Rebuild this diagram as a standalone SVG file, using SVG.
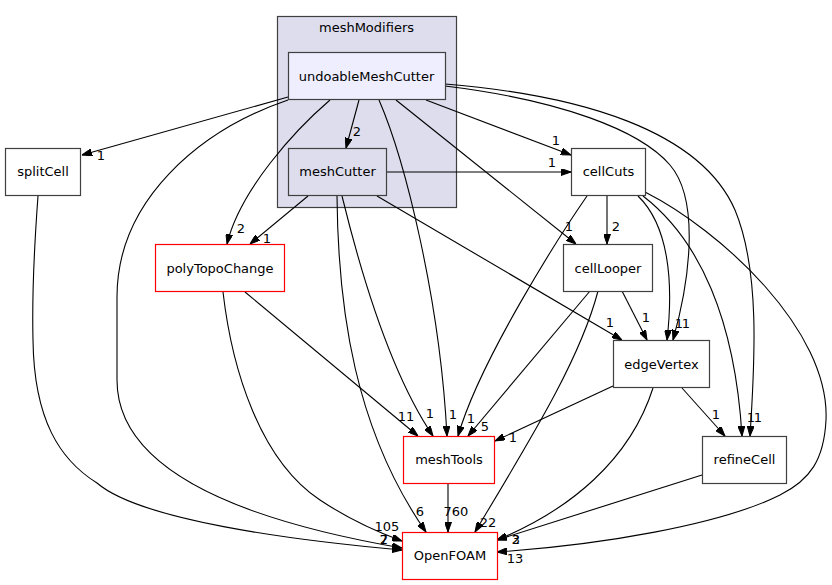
<svg xmlns="http://www.w3.org/2000/svg" width="832" height="585" viewBox="0 0 832 585">
<defs>
<marker id="ah" markerWidth="10" markerHeight="7" refX="10" refY="3.5" orient="auto" markerUnits="userSpaceOnUse">
<path d="M0,0 L10,3.5 L0,7 z" fill="#000" stroke="#000" stroke-width="1"/>
</marker>
<style>
text{font-family:"DejaVu Sans","Liberation Sans",sans-serif;font-size:13px;fill:#000}
.n{text-anchor:middle}
.box{fill:#fff;stroke:#404040;stroke-width:1.2}
.red{fill:#fff;stroke:#ff0000;stroke-width:1.2}
.e path{fill:none;stroke:#000;stroke-width:1.1;marker-end:url(#ah)}
.lbl{text-anchor:middle}
</style>
</defs>
<rect width="832" height="585" fill="#fff"/>
<g id="cluster_meshModifiers">
<rect x="277.5" y="16.5" width="179" height="191" fill="#ddddee" stroke="#404040" stroke-width="1.2"/>
<text class="n" x="366.5" y="32">meshModifiers</text>
</g>
<g class="e" id="edges">
<path d="M288,97 L82,155"/>
<path d="M359,100 L346,148"/>
<path d="M330,100 C295,130 240,190 227,244"/>
<path d="M288,100 C200,130 117,200 117,297 L117,380 C117,470 240,520 402,548"/>
<path d="M379,100 C405,160 440,300 447,436"/>
<path d="M396,100 L576,244"/>
<path d="M426,100 L571,155"/>
<path d="M445,86 C560,100 640,130 670,165 C700,200 690,280 673,340"/>
<path d="M445,84 C580,95 700,130 735,210 C760,270 755,360 750,436"/>
<path d="M387,172 L571,172"/>
<path d="M308,196 L250,244"/>
<path d="M342,196 C365,290 395,380 433,436"/>
<path d="M337,196 C338,310 355,430 426,532"/>
<path d="M377,196 L622,340"/>
<path d="M607,196 L607,244"/>
<path d="M587,196 C560,235 480,360 458,436"/>
<path d="M638,196 C668,225 674,280 667,340"/>
<path d="M643,196 C700,240 735,320 742,436"/>
<path d="M645,192 C720,230 830,330 826,420 C824,460 810,480 780,495 C720,525 600,545 497,552"/>
<path d="M622,291 L647,340"/>
<path d="M590,291 L468,436"/>
<path d="M598,291 C580,360 530,440 475,532"/>
<path d="M613,386 L495,441"/>
<path d="M682,388 L725,436"/>
<path d="M653,388 C630,460 570,510 497,540"/>
<path d="M702,475 L497,540"/>
<path d="M245,292 L418,436"/>
<path d="M223,292 C232,370 260,460 320,500 C350,520 380,533 402,541"/>
<path d="M448,484 L448,532"/>
<path d="M38,196 C34,250 32,300 33,340 C34,420 60,460 97,483 C140,520 290,540 402,550"/>
</g>
<g id="edge_labels">
<text class="lbl" x="101" y="160">1</text>
<text class="lbl" x="357" y="136">2</text>
<text class="lbl" x="241" y="233">2</text>
<text class="lbl" x="267" y="243">1</text>
<text class="lbl" x="556" y="145">1</text>
<text class="lbl" x="552" y="167">1</text>
<text class="lbl" x="569" y="231">1</text>
<text class="lbl" x="616" y="231">2</text>
<text class="lbl" x="610" y="327">1</text>
<text class="lbl" x="646" y="322">1</text>
<text class="lbl" x="679" y="328">1</text>
<text class="lbl" x="686" y="328">1</text>
<text class="lbl" x="716" y="419">1</text>
<text class="lbl" x="751" y="422">1</text>
<text class="lbl" x="758" y="422">1</text>
<text class="lbl" x="406" y="421">11</text>
<text class="lbl" x="430" y="418">1</text>
<text class="lbl" x="453" y="419">1</text>
<text class="lbl" x="471" y="423">1</text>
<text class="lbl" x="485" y="431">5</text>
<text class="lbl" x="513" y="442">1</text>
<text class="lbl" x="387" y="531">105</text>
<text class="lbl" x="384" y="544">7</text>
<text class="lbl" x="384" y="544">2</text>
<text class="lbl" x="420" y="516">6</text>
<text class="lbl" x="456" y="516">760</text>
<text class="lbl" x="488" y="527">22</text>
<text class="lbl" x="516" y="544">3</text>
<text class="lbl" x="516" y="544">2</text>
<text class="lbl" x="515" y="563">13</text>
</g>
<g id="node_undoableMeshCutter">
<rect x="288.5" y="52.5" width="157" height="47" fill="#eeeeff" stroke="#404040" stroke-width="1.2"/>
<text class="n" x="366.5" y="80.5">undoableMeshCutter</text>
</g>
<g id="node_meshCutter">
<rect x="288.5" y="148.5" width="98" height="47" fill="#ddddee" stroke="#404040" stroke-width="1.2"/>
<text class="n" x="337.5" y="176">meshCutter</text>
</g>
<g id="node_splitCell">
<rect class="box" x="5.5" y="148.5" width="75" height="47"/>
<text class="n" x="43" y="176">splitCell</text>
</g>
<g id="node_cellCuts">
<rect class="box" x="571.5" y="148.5" width="74" height="47"/>
<text class="n" x="608.5" y="176">cellCuts</text>
</g>
<g id="node_polyTopoChange">
<rect class="red" x="155.5" y="244.5" width="129" height="47"/>
<text class="n" x="220" y="272.5">polyTopoChange</text>
</g>
<g id="node_cellLooper">
<rect class="box" x="563.5" y="244.5" width="89" height="47"/>
<text class="n" x="608" y="272.5">cellLooper</text>
</g>
<g id="node_edgeVertex">
<rect class="box" x="613.5" y="340.5" width="96" height="47"/>
<text class="n" x="661.5" y="368.5">edgeVertex</text>
</g>
<g id="node_meshTools">
<rect class="red" x="403.5" y="436.5" width="91" height="47"/>
<text class="n" x="449" y="464">meshTools</text>
</g>
<g id="node_refineCell">
<rect class="box" x="702.5" y="436.5" width="84" height="47"/>
<text class="n" x="744.5" y="464">refineCell</text>
</g>
<g id="node_OpenFOAM">
<rect class="red" x="402.5" y="532.5" width="95" height="47"/>
<text class="n" x="450" y="560">OpenFOAM</text>
</g>
</svg>
